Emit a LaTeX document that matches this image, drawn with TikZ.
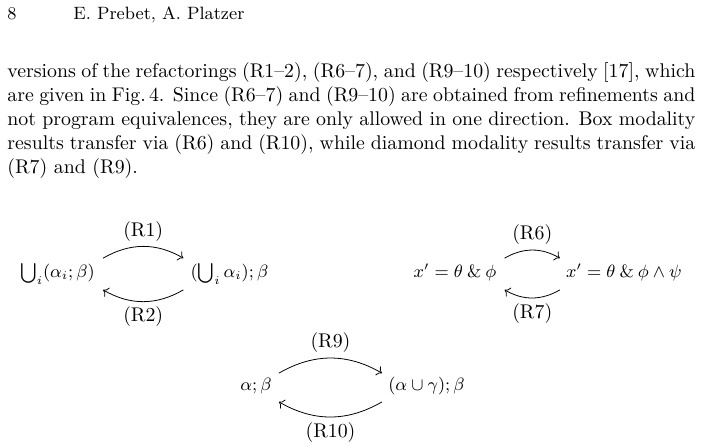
\documentclass[tikz,border=0pt]{standalone}
\usetikzlibrary{arrows.meta}
\tikzset{
  txt/.style={anchor=base west, inner sep=0pt},
  para/.style={anchor=base west, inner sep=0pt, text width=347pt, align=justify, font=\normalsize},
  cell/.style={anchor=base, inner sep=0pt, font=\small},
  arr/.style={-{Computer Modern Rightarrow}, line width=0.4pt},
  lbl/.style={inner sep=2.5pt, font=\normalsize}
}
\begin{document}
\begin{tikzpicture}[x=0.5044pt, y=-0.5044pt]
\useasboundingbox (0,0) rectangle (704,448);
% running head
\node[txt, font=\small] (pg) at (7,19.5) {8};
\node[txt, font=\small] (rh) at (73,19.5) {E. Prebet, A. Platzer};
% paragraph
\node[para] (body) at (7,78) {\baselineskip=12pt
versions of the refactorings (R1–2), (R6–7), and (R9–10) respectively [17], which\linebreak
are given in Fig.\,4. Since (R6–7) and (R9–10) are obtained from refinements and\linebreak
not program equivalences, they are only allowed in one direction. Box modality\linebreak
results transfer via (R6) and (R10), while diamond modality results transfer via\linebreak
(R7) and (R9).};
% diagram 1
\node[cell] (A) at (57.5,278) {$\bigcup_i(\alpha_i;\beta)$};
\node[cell] (B) at (229.5,278) {$(\bigcup_i\alpha_i);\beta$};
\draw[arr] ([xshift=4pt,yshift=10pt]A.base east) to[bend left=30] node[lbl,above] (r1) {(R1)} ([xshift=-3.5pt,yshift=10pt]B.base west);
\draw[arr] ([xshift=-3.5pt,yshift=-6pt]B.base west) to[bend left=30] node[lbl,below] (r2) {(R2)} ([xshift=4pt,yshift=-6pt]A.base east);
% diagram 2
\node[cell] (C) at (455,278) {$x'=\theta\mathbin{\&}\phi$};
\node[cell] (D) at (624,278) {$x'=\theta\mathbin{\&}\phi\land\psi$};
\draw[arr] ([xshift=4pt,yshift=10pt]C.base east) to[bend left=30] node[lbl,above] (r6) {(R6)} ([xshift=-3pt,yshift=10pt]D.base west);
\draw[arr] ([xshift=-3pt,yshift=-6pt]D.base west) to[bend left=30] node[lbl,below] (r7) {(R7)} ([xshift=4pt,yshift=-6pt]C.base east);
% diagram 3
\node[cell] (E) at (256,391) {$\alpha;\beta$};
\node[cell] (F) at (426.5,391) {$(\alpha\cup\gamma);\beta$};
\draw[arr] ([xshift=3.5pt,yshift=9pt]E.base east) to[bend left=30] node[lbl,above] (r9) {(R9)} ([xshift=-3pt,yshift=9pt]F.base west);
\draw[arr] ([xshift=-3pt,yshift=-5.5pt]F.base west) to[bend left=30] node[lbl,below] (r10) {(R10)} ([xshift=3.5pt,yshift=-5.5pt]E.base east);
\end{tikzpicture}
\end{document}
